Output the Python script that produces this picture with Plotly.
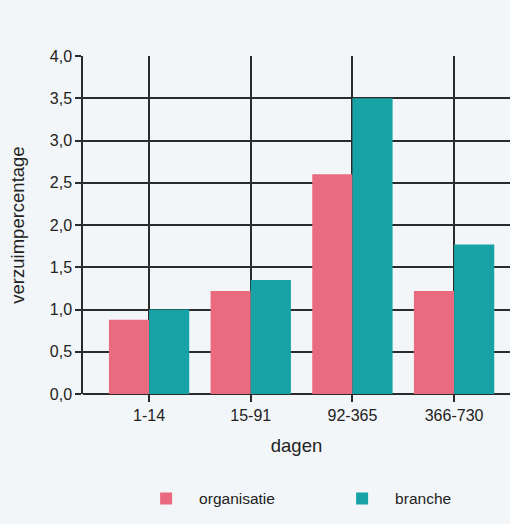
import plotly.graph_objects as go

categories = ["1-14", "15-91", "92-365", "366-730"]
organisatie = [0.88, 1.22, 2.6, 1.22]
branche = [1.0, 1.35, 3.5, 1.77]
y_ticks = [0, 0.5, 1.0, 1.5, 2.0, 2.5, 3.0, 3.5, 4.0]

BG = "#f3f6f8"
FONT = "Liberation Sans, Arial, sans-serif"

fig = go.Figure()
fig.add_trace(go.Bar(x=categories, y=organisatie, name="organisatie",
                     marker=dict(color="#ea6a7f", line=dict(width=0))))
fig.add_trace(go.Bar(x=categories, y=branche, name="branche",
                     marker=dict(color="#17a3a5", line=dict(width=0))))

fig.update_layout(
    width=510, height=524,
    paper_bgcolor=BG, plot_bgcolor=BG,
    separators=",.",
    barmode="group", bargap=0.21, bargroupgap=0,
    margin=dict(l=83, r=0, t=56, b=130, autoexpand=False),
    font=dict(family=FONT, color="#222222", size=15),
    showlegend=True,
    legend=dict(orientation="h", xref="container", yref="container",
                x=0.261, y=0.048, xanchor="left", yanchor="middle",
                itemwidth=56, entrywidth=125, entrywidthmode="pixels",
                font=dict(size=15.5, family=FONT, color="#222222"),
                bgcolor="rgba(0,0,0,0)"),
)
fig.update_xaxes(
    range=[-0.65, 3.55], automargin=False,
    showgrid=True, gridcolor="#2b2b2b", gridwidth=1.5,
    ticks="outside", ticklen=7, tickcolor="#2b2b2b", tickwidth=1.5,
    tickfont=dict(size=16),
    title=dict(text="dagen", font=dict(size=18.5), standoff=15),
    showline=False, zeroline=False,
)
fig.update_yaxes(
    range=[0, 4.0], tickvals=y_ticks, tickformat=".1f", automargin=False,
    showgrid=True, gridcolor="#2b2b2b", gridwidth=1.5,
    ticks="outside", ticklen=6, tickcolor="#2b2b2b", tickwidth=1.5,
    tickfont=dict(size=16),
    title=dict(text="verzuimpercentage", font=dict(size=18.5), standoff=20),
    showline=True, linecolor="#2b2b2b", linewidth=1.5,
    zeroline=True, zerolinecolor="#2b2b2b", zerolinewidth=1.5,
)
fig.write_html(
    "out.html",
    config={"displayModeBar": False},
    post_script="document.body.style.margin='0';document.body.style.overflow='hidden';"
                "document.body.style.background='" + BG + "';",
)
